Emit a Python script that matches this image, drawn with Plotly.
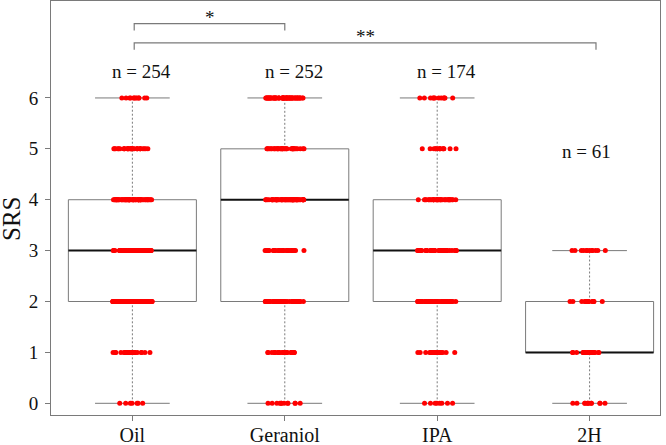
import plotly.graph_objects as go

# ---------------- data ----------------
groups = ["Oil", "Geraniol", "IPA", "2H"]
n_labels = ["n = 254", "n = 252", "n = 174", "n = 61"]
levels = [0, 1, 2, 3, 4, 5, 6]

# number of responses at each SRS score (0..6)
counts_oil = [7, 25, 65, 55, 60, 30, 12]
counts_geraniol = [12, 22, 40, 25, 60, 35, 58]
counts_ipa = [8, 20, 45, 40, 35, 14, 12]
counts_2h = [12, 22, 15, 12, 0, 0, 0]

# box statistics
q1 = [2, 2, 2, 1]
median = [3, 4, 3, 1]
q3 = [4, 5, 4, 2]
lower = [0, 0, 0, 0]
upper = [6, 6, 6, 3]

# significance brackets: (label, from group, to group)
brackets = [("*", "Oil", "Geraniol"), ("**", "Oil", "2H")]

# ---------------- styling / layout constants ----------------
FONT = "Liberation Serif"
GRAY = "#7a7a7a"
BOX_HALF = 0.42
CAP_HALF = 0.245
label_y = [6.51, 6.51, 6.51, 4.95]
label_dx = [0.06, 0.06, 0.06, -0.02]
bracket_y = [7.462, 7.082]
bracket_leg = 0.135
bracket_text_y = [7.58, 7.21]
bracket_end_dx = [(0.012, 0.0), (0.012, 0.042)]

all_counts = [counts_oil, counts_geraniol, counts_ipa, counts_2h]
pos = {g: i + 1 for i, g in enumerate(groups)}

fig = go.Figure()

# jittered raw points (box itself hidden; drawn below with shapes)
for i, g in enumerate(groups):
    vals = []
    for lv, c in zip(levels, all_counts[i]):
        vals += [lv] * c
    fig.add_trace(go.Box(
        x=[i + 1] * len(vals), y=vals, name=g,
        boxpoints="all", jitter=0.31, pointpos=0, width=2 * BOX_HALF,
        line=dict(width=0, color="rgba(0,0,0,0)"),
        fillcolor="rgba(0,0,0,0)",
        marker=dict(color="#ff0000", size=5, line=dict(width=0)),
        showlegend=False, hoverinfo="y",
    ))

shapes = []
for i, g in enumerate(groups):
    p = i + 1
    shapes.append(dict(type="rect", xref="x", yref="y", x0=p - BOX_HALF, x1=p + BOX_HALF,
                       y0=q1[i], y1=q3[i], line=dict(color=GRAY, width=1), layer="below"))
    shapes.append(dict(type="line", xref="x", yref="y", x0=p, x1=p, y0=q3[i], y1=upper[i],
                       line=dict(color=GRAY, width=1, dash="2px,2px"), layer="below"))
    shapes.append(dict(type="line", xref="x", yref="y", x0=p, x1=p, y0=lower[i], y1=q1[i],
                       line=dict(color=GRAY, width=1, dash="2px,2px"), layer="below"))
    for v in (upper[i], lower[i]):
        shapes.append(dict(type="line", xref="x", yref="y", x0=p - CAP_HALF, x1=p + CAP_HALF,
                           y0=v, y1=v, line=dict(color=GRAY, width=1), layer="below"))
    shapes.append(dict(type="line", xref="x", yref="y", x0=p - BOX_HALF, x1=p + BOX_HALF,
                       y0=median[i], y1=median[i], line=dict(color="#111111", width=2),
                       layer="below"))

annotations = []
for (lab, ga, gb), yb, yt, (da, db) in zip(brackets, bracket_y, bracket_text_y, bracket_end_dx):
    xa, xb = pos[ga] + da, pos[gb] + db
    shapes.append(dict(type="path", xref="x", yref="y",
                       path=f"M {xa},{yb - bracket_leg} L {xa},{yb} L {xb},{yb} L {xb},{yb - bracket_leg}",
                       line=dict(color=GRAY, width=1.2)))
    annotations.append(dict(x=(xa + xb) / 2, y=yt, xref="x", yref="y", text=lab,
                            showarrow=False, font=dict(family=FONT, size=19, color="#111"),
                            xanchor="center", yanchor="middle"))

for i, lab in enumerate(n_labels):
    annotations.append(dict(x=i + 1 + label_dx[i], y=label_y[i], xref="x", yref="y", text=lab,
                            showarrow=False, font=dict(family=FONT, size=19, color="#111"),
                            xanchor="center", yanchor="middle"))

annotations.append(dict(x=-0.066, y=0.473, xref="paper", yref="paper", text="SRS",
                        textangle=-90, showarrow=False,
                        font=dict(family=FONT, size=25, color="#111"),
                        xanchor="center", yanchor="middle"))

axis_common = dict(showline=True, mirror=True, linecolor=GRAY, linewidth=1,
                   ticks="outside", ticklen=5, tickcolor=GRAY, tickwidth=1,
                   showgrid=False, zeroline=False, automargin=False)

fig.update_layout(
    width=666, height=445,
    margin=dict(l=51, r=6, t=1, b=30),
    paper_bgcolor="white", plot_bgcolor="white",
    showlegend=False,
    shapes=shapes, annotations=annotations,
    xaxis=dict(range=[0.466, 4.462], tickmode="array", tickvals=[1, 2, 3, 4], ticktext=groups,
               tickfont=dict(family=FONT, size=20, color="#111"), ticklabelstandoff=-3,
               **axis_common),
    yaxis=dict(range=[-0.23, 7.905], tickmode="array", tickvals=levels,
               ticktext=[str(v) for v in levels], ticklabelstandoff=3,
               tickfont=dict(family=FONT, size=19, color="#111"), **axis_common),
)

fig.write_html("out.html", config={"displayModeBar": False},
               post_script="document.body.style.margin='0';document.body.style.overflow='hidden';")
